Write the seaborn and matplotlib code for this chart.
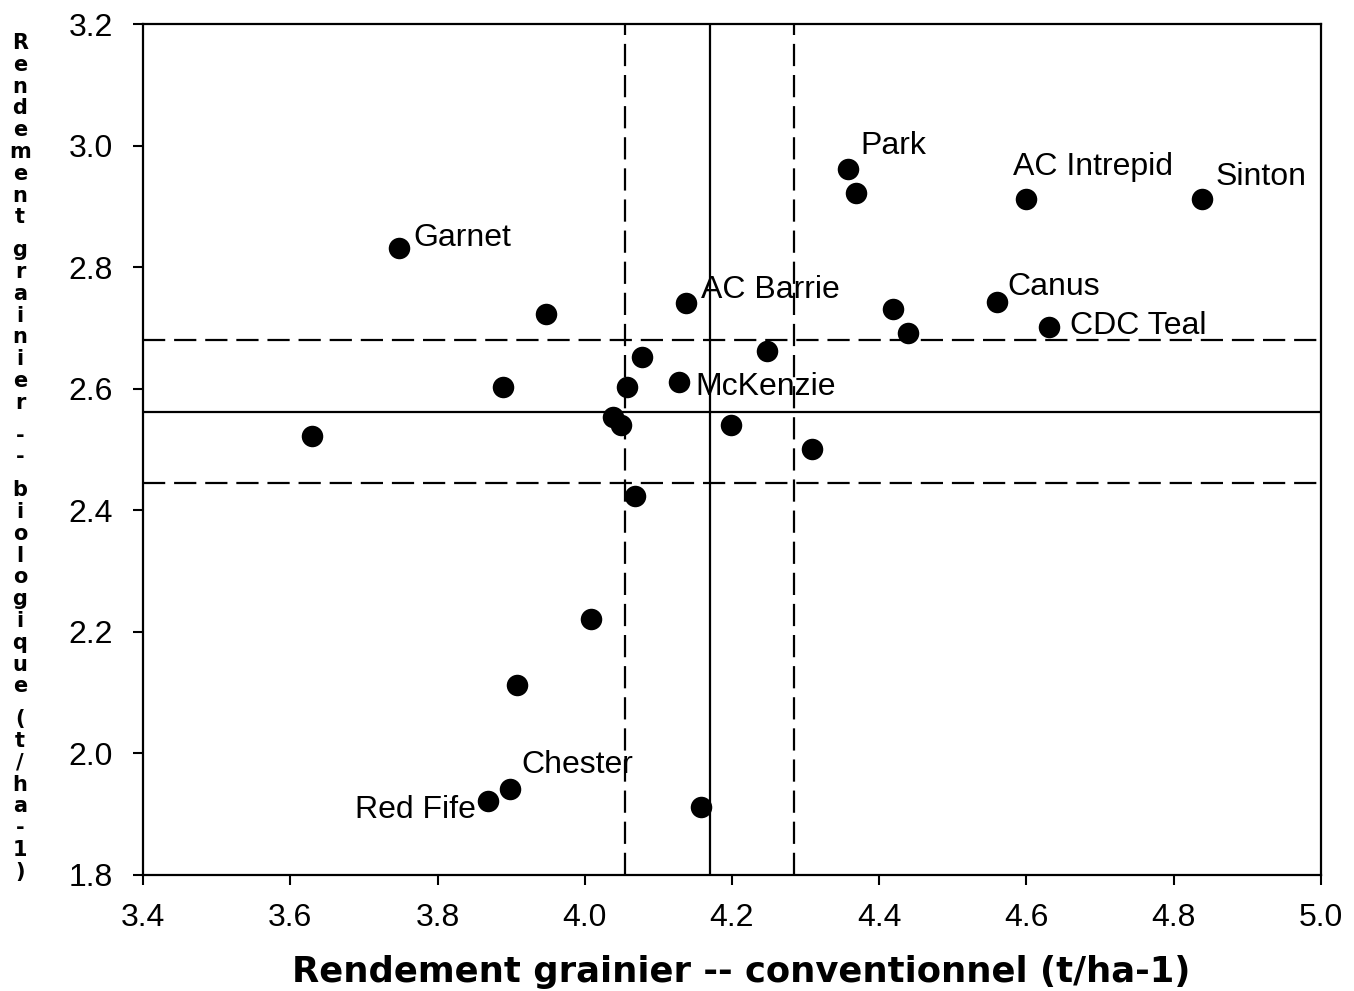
import matplotlib
matplotlib.use("Agg")
import matplotlib.pyplot as plt
import seaborn as sns
import pandas as pd

# values
conv = [3.748, 3.948, 3.889, 3.629, 4.039, 4.049, 4.058, 4.078, 4.068, 4.008,
        3.908, 3.898, 3.868, 4.158, 4.138, 4.128, 4.248, 4.199, 4.308, 4.358,
        4.369, 4.419, 4.439, 4.560, 4.630, 4.599, 4.839]
bio = [2.832, 2.723, 2.602, 2.523, 2.553, 2.541, 2.602, 2.652, 2.423, 2.221,
       2.112, 1.942, 1.922, 1.912, 2.741, 2.611, 2.662, 2.541, 2.501, 2.962,
       2.922, 2.731, 2.692, 2.742, 2.702, 2.912, 2.912]
names = ["Garnet", "", "", "", "", "", "", "", "", "",
         "", "Chester", "Red Fife", "", "AC Barrie", "McKenzie", "", "", "", "Park",
         "", "", "", "Canus", "CDC Teal", "AC Intrepid", "Sinton"]

conv_mean, conv_lo, conv_hi = 4.170, 4.055, 4.284
bio_mean, bio_lo, bio_hi = 2.561, 2.445, 2.680

xticks = [3.4, 3.6, 3.8, 4.0, 4.2, 4.4, 4.6, 4.8, 5.0]
yticks = [1.8, 2.0, 2.2, 2.4, 2.6, 2.8, 3.0, 3.2]

xlabel = "Rendement grainier -- conventionnel (t/ha-1)"
ylabel = "Rendement grainier -- biologique (t/ha-1)"

df = pd.DataFrame({"conv": conv, "bio": bio, "name": names})

sns.set_theme(style="ticks")
plt.rcParams["font.family"] = ["Liberation Sans", "DejaVu Sans"]

fig = plt.figure(figsize=(13.54, 9.91), dpi=100)
ax = fig.add_axes([143 / 1354, 1 - 875 / 991, 1178 / 1354, 851 / 991])

# reference lines (mean and interval)
for v, ls in [(conv_mean, "-"), (conv_lo, "--"), (conv_hi, "--")]:
    ax.axvline(v, color="black", lw=1.6, ls=ls, dashes=(10, 4) if ls == "--" else (None, None), zorder=1)
for v, ls in [(bio_mean, "-"), (bio_lo, "--"), (bio_hi, "--")]:
    ax.axhline(v, color="black", lw=1.6, ls=ls, dashes=(10, 4) if ls == "--" else (None, None), zorder=1)

sns.scatterplot(data=df, x="conv", y="bio", color="black", s=240,
                edgecolor="black", linewidth=0, ax=ax, zorder=3)

# label offsets in pixels (dx, dy, ha)
offsets = {
    "Garnet": (14, 2, "left"), "Park": (12, 15, "left"),
    "AC Intrepid": (-13, 24, "left"), "Sinton": (13, 14, "left"),
    "Canus": (10, 7, "left"), "CDC Teal": (21, -7, "left"),
    "AC Barrie": (15, 5, "left"), "McKenzie": (16, -13, "left"),
    "Chester": (12, 16, "left"), "Red Fife": (-12, -17, "right"),
}
for _, row in df.iterrows():
    if row["name"]:
        dx, dy, ha = offsets[row["name"]]
        ax.annotate(row["name"], (row["conv"], row["bio"]), xytext=(dx, dy),
                    textcoords="offset pixels", ha=ha, va="baseline",
                    fontsize=23, color="black", zorder=4)

ax.set_xlim(3.4, 5.0)
ax.set_ylim(1.8, 3.2)
ax.set_xticks(xticks)
ax.set_yticks(yticks)
ax.set_xticklabels([f"{t:.1f}" for t in xticks])
ax.set_yticklabels([f"{t:.1f}" for t in yticks])
ax.tick_params(axis="both", direction="out", length=7.5, width=1.5,
               labelsize=23, colors="black")
ax.tick_params(axis="x", pad=13)
ax.tick_params(axis="y", pad=14)
for sp in ax.spines.values():
    sp.set_visible(True)
    sp.set_linewidth(1.6)
    sp.set_color("black")
ax.set_xlabel("")
ax.set_ylabel("")

fig.text(741 / 1354, 1 - 972 / 991, xlabel, ha="center", va="center",
         fontsize=25.5, fontweight="bold", family="DejaVu Sans", color="black")

# vertical label with upright stacked letters
ypix = 43
for ch in ylabel:
    if ch == " ":
        ypix += 11
        continue
    fig.text(20 / 1354, 1 - ypix / 991, ch, ha="center", va="center",
             fontsize=15, fontweight="bold", family="DejaVu Sans", color="black")
    ypix += 21.8

fig.savefig("out.png", dpi=100, facecolor="white")
